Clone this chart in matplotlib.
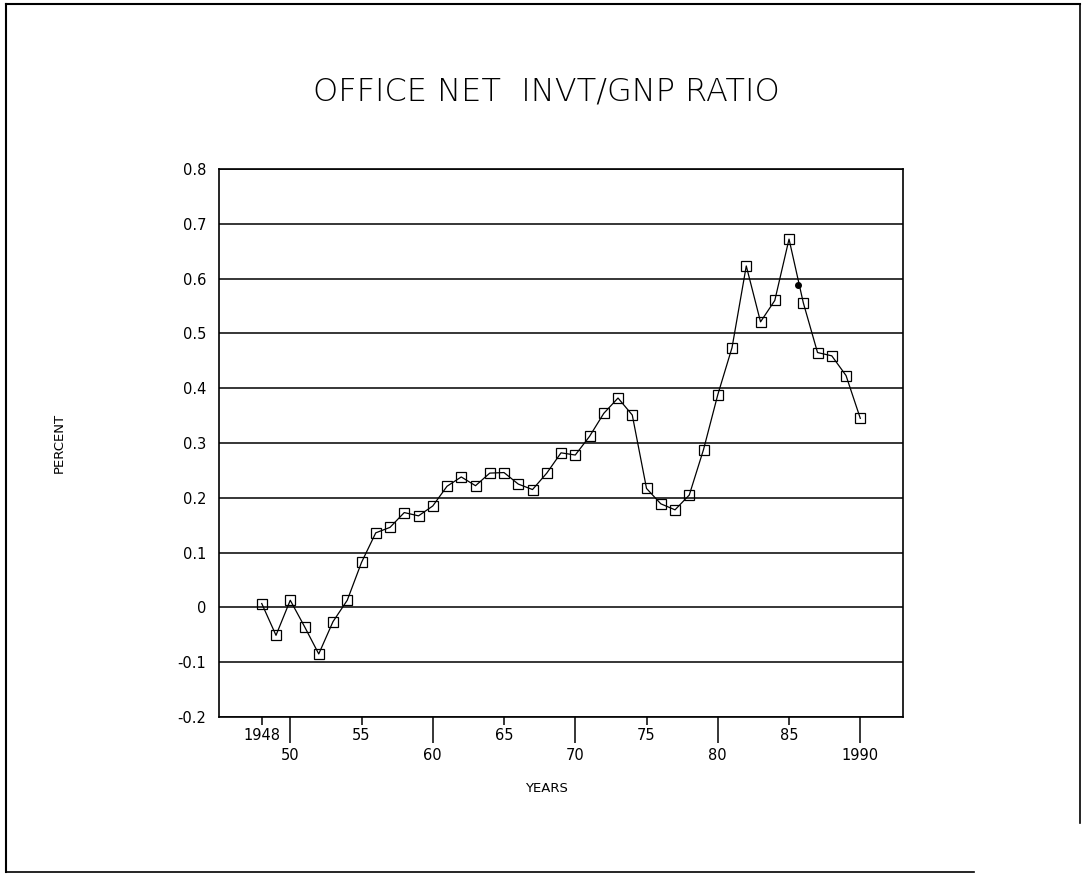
import numpy as np
import matplotlib
matplotlib.use("Agg")
import matplotlib.pyplot as plt
from matplotlib.lines import Line2D

# office net investment / GNP ratio, 1948-1990
years = np.arange(1948, 1991)
ratio = [0.007, -0.051, 0.013, -0.035, -0.085, -0.026, 0.013, 0.082, 0.136, 0.146,
         0.173, 0.167, 0.185, 0.221, 0.238, 0.222, 0.245, 0.246, 0.225, 0.215,
         0.245, 0.282, 0.278, 0.312, 0.354, 0.382, 0.351, 0.217, 0.189, 0.178,
         0.205, 0.288, 0.388, 0.474, 0.623, 0.521, 0.560, 0.672, 0.556, 0.465,
         0.459, 0.423, 0.345]
# stray pen blot near 1985
blot_x = [1985.6]
blot_y = [0.588]

low_ticks = [1950, 1960, 1970, 1980, 1990]
low_labels = ['50', '60', '70', '80', '1990']
high_ticks = [1948, 1955, 1965, 1975, 1985]
high_labels = ['1948', '55', '65', '75', '85']
yticks = np.round(np.arange(-0.2, 0.81, 0.1), 1)
ylabels = ['0' if abs(v) < 1e-9 else ('%.1f' % v) for v in yticks]

fig = plt.figure(figsize=(10.82, 8.75), dpi=100)
ax = fig.add_axes([0.2024, 0.1806, 0.6322, 0.6263])

for v in yticks:
    ax.axhline(v, color='black', lw=1.1, zorder=1)

ax.plot(years, ratio, color='black', lw=0.9, marker='s', ms=7.5,
        mfc='none', mec='black', mew=0.9, zorder=3)
ax.plot(blot_x, blot_y, 'o', color='black', ms=4, zorder=4)

ax.set_xlim(1945, 1993)
ax.set_ylim(-0.2, 0.8)
ax.set_yticks(yticks)
ax.set_yticklabels(ylabels, fontsize=10.5)
ax.tick_params(axis='y', length=0, pad=9)

ax.set_xticks(low_ticks)
ax.set_xticklabels(low_labels, fontsize=10.5)
ax.set_xticks(high_ticks, minor=True)
ax.set_xticklabels(high_labels, minor=True, fontsize=10.5)
ax.tick_params(axis='x', which='major', direction='out', length=19, width=1.1, pad=3)
ax.tick_params(axis='x', which='minor', direction='out', length=6, width=1.1, pad=2)

for s in ax.spines.values():
    s.set_linewidth(1.2)

fig.text(0.505, 0.896, 'OFFICE NET  INVT/GNP RATIO', ha='center', va='center',
         fontsize=23, fontweight='light')
fig.text(0.055, 0.494, 'PERCENT', rotation=90, ha='center', va='center', fontsize=9.5)
fig.text(0.505, 0.099, 'YEARS', ha='center', va='center', fontsize=9.5)

# page border
fig.add_artist(Line2D([0.0055, 0.9985], [0.9955, 0.9955], color='black', lw=1.5))
fig.add_artist(Line2D([0.0055, 0.0055], [0.0035, 0.9955], color='black', lw=1.5))
fig.add_artist(Line2D([0.9985, 0.9985], [0.06, 0.9955], color='black', lw=1.2))
fig.add_artist(Line2D([0.0055, 0.9], [0.0035, 0.0035], color='black', lw=1.2))

fig.savefig('out.png', dpi=100)
